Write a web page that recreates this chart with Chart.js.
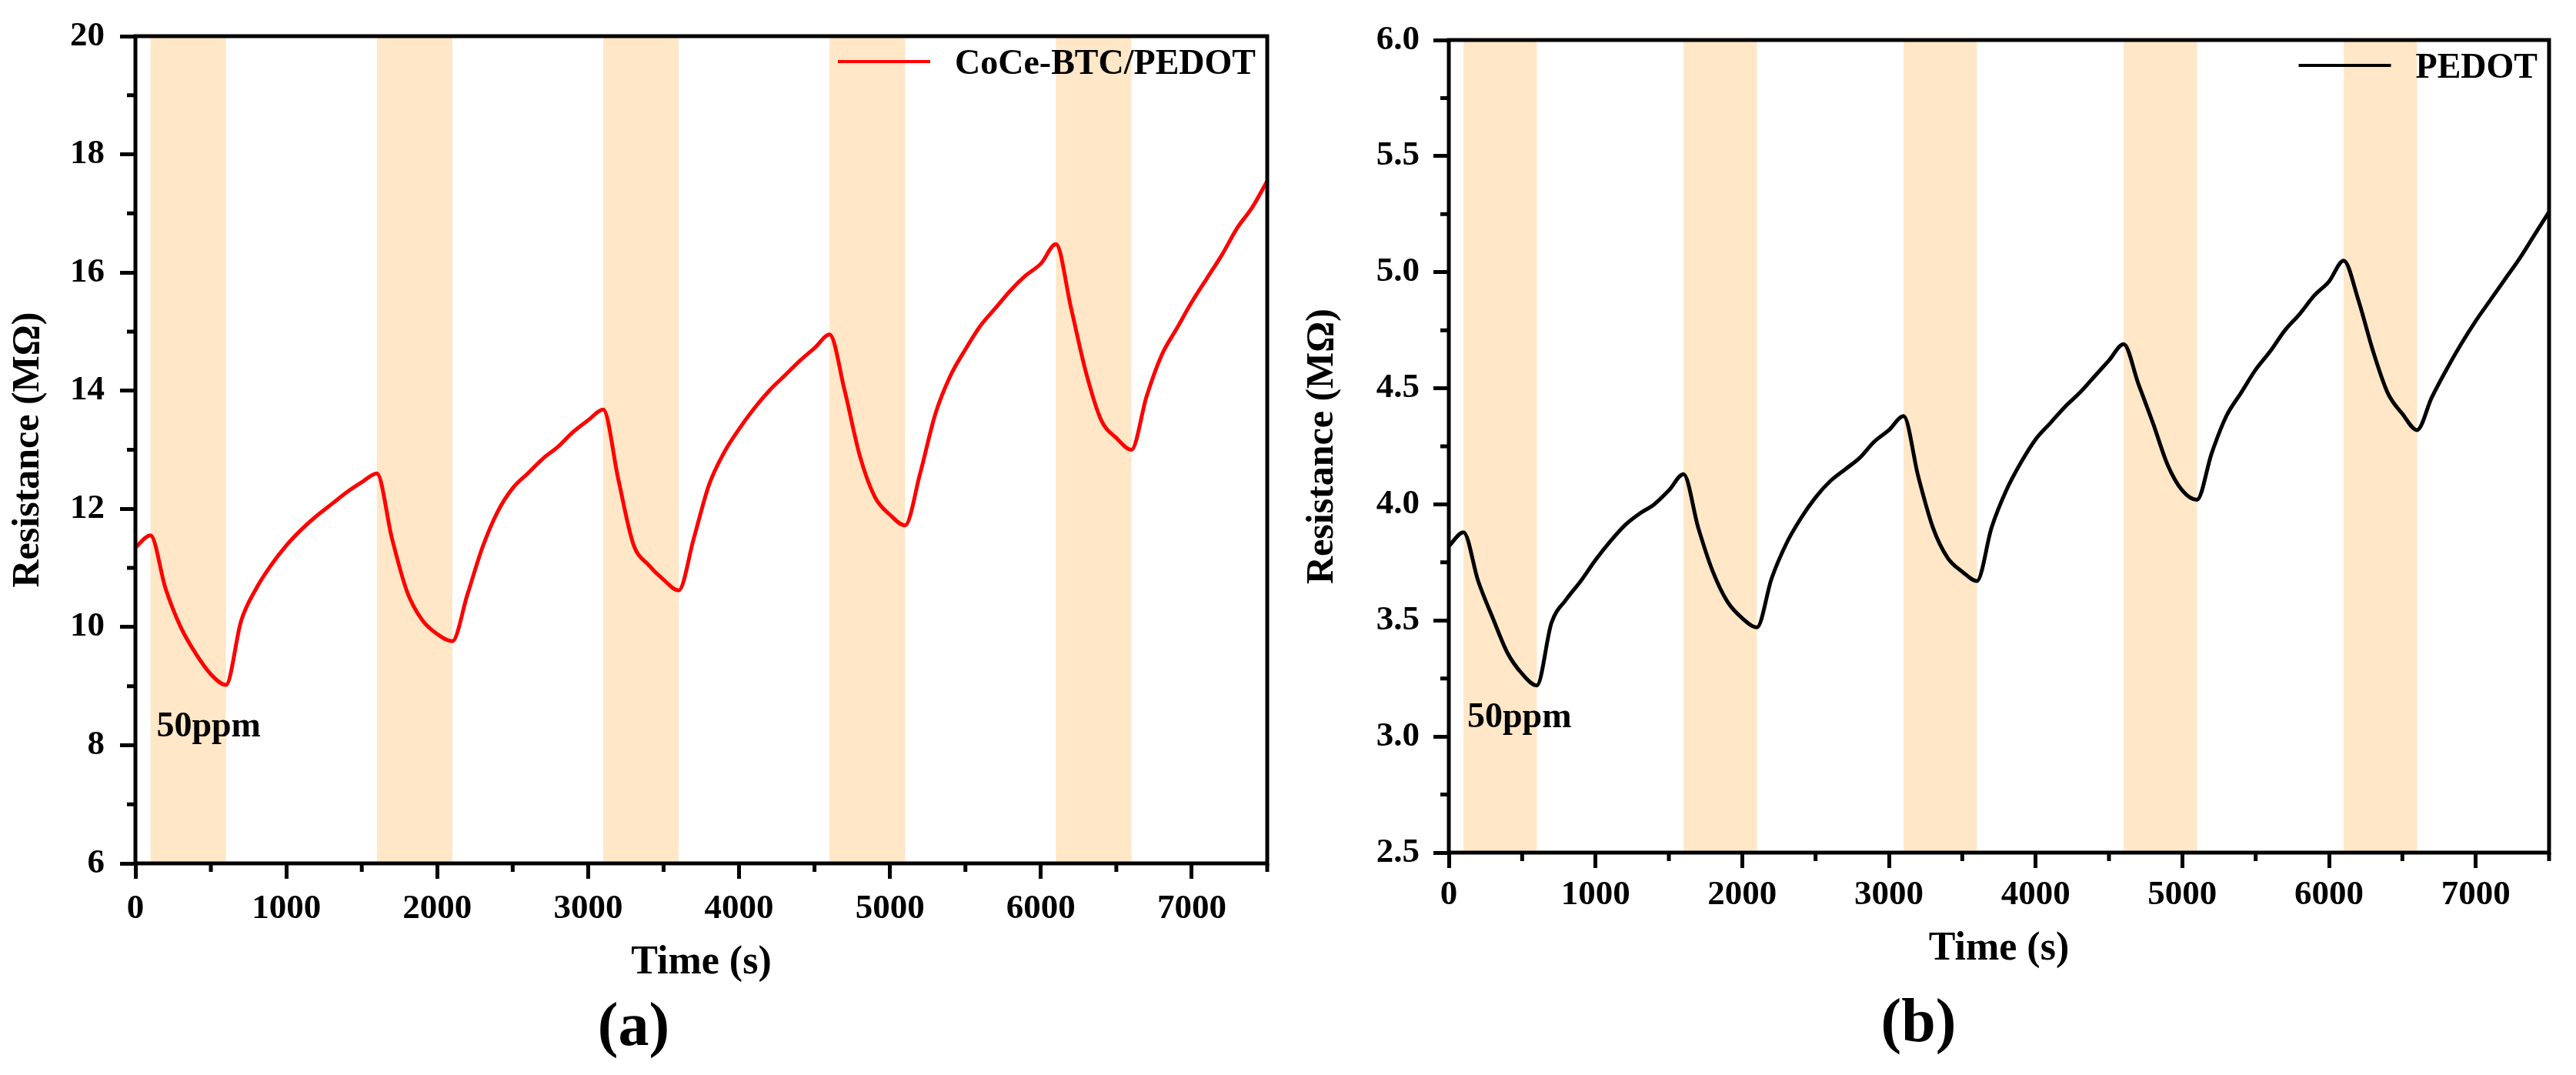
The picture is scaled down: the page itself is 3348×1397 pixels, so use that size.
<!DOCTYPE html>
<html>
<head>
<meta charset="utf-8">
<script src="https://cdn.jsdelivr.net/npm/chart.js@4.4.1/dist/chart.umd.min.js"></script>
<style>
  html, body { margin: 0; padding: 0; background: #fff; }
  #wrap { position: relative; width: 3348px; height: 1397px; }
  canvas { position: absolute; top: 0; }
</style>
</head>
<body>
<div id="wrap">
  <canvas id="chartA" width="1674" height="1397" style="left:0"></canvas>
  <canvas id="chartB" width="1674" height="1397" style="left:1674px"></canvas>
</div>
<script>
// time axis (s), one reading every 100 s
const timeS = [0,100,200,300,400,500,600,700,800,900,1000,1100,1200,1300,1400,1500,1600,1700,1800,1900,
  2000,2100,2200,2300,2400,2500,2600,2700,2800,2900,3000,3100,3200,3300,3400,3500,3600,3700,3800,3900,
  4000,4100,4200,4300,4400,4500,4600,4700,4800,4900,5000,5100,5200,5300,5400,5500,5600,5700,5800,5900,
  6000,6100,6200,6300,6400,6500,6600,6700,6800,6900,7000,7100,7200,7300,7400,7500];

// (a) CoCe-BTC/PEDOT resistance, MOhm
const resistA = [11.35,11.55,10.65,10.0,9.55,9.2,9.02,10.1,10.65,11.05,11.38,11.65,11.88,12.08,12.28,12.45,
  12.6,11.5,10.6,10.12,9.88,9.76,10.55,11.35,11.95,12.35,12.6,12.85,13.05,13.3,13.5,13.68,12.5,11.4,11.05,
  10.8,10.62,11.5,12.4,12.95,13.35,13.7,14.0,14.25,14.5,14.72,14.95,14.0,12.9,12.2,11.9,11.72,12.6,13.6,
  14.25,14.7,15.1,15.4,15.7,15.95,16.15,16.48,15.4,14.3,13.5,13.2,13.0,13.9,14.6,15.05,15.5,15.9,16.3,
  16.75,17.1,17.55];

// (b) PEDOT resistance, MOhm
const resistB = [3.82,3.88,3.67,3.51,3.36,3.27,3.22,3.49,3.59,3.67,3.76,3.84,3.91,3.96,4.0,4.06,4.13,3.9,
  3.71,3.58,3.51,3.47,3.68,3.83,3.94,4.03,4.1,4.15,4.2,4.27,4.32,4.38,4.12,3.9,3.77,3.71,3.67,3.9,4.06,
  4.18,4.28,4.35,4.42,4.48,4.55,4.62,4.69,4.52,4.35,4.17,4.06,4.02,4.22,4.38,4.48,4.58,4.66,4.75,4.82,
  4.9,4.96,5.05,4.88,4.66,4.48,4.39,4.32,4.46,4.58,4.69,4.79,4.88,4.97,5.06,5.16,5.26];

// gas exposure windows (s)
const bandStart = [100, 1600, 3100, 4600, 6100];
const bandEnd = [600, 2100, 3600, 5100, 6600];

// ticks
const xTicks = [0,1000,2000,3000,4000,5000,6000,7000];
const xMinor = [500,1500,2500,3500,4500,5500,6500,7500];
const yTicksA = [6,8,10,12,14,16,18,20];
const yMinorA = [7,9,11,13,15,17,19];
const yTicksB = [2.5,3.0,3.5,4.0,4.5,5.0,5.5,6.0];
const yMinorB = [2.75,3.25,3.75,4.25,4.75,5.25,5.75];

const FONT = "'Liberation Serif', 'Times New Roman', serif";
Chart.defaults.font.family = FONT;
Chart.defaults.font.weight = 'bold';
Chart.defaults.color = '#000';

// shaded bands, frame, minor ticks, note and legend
const panelPlugin = {
  id: 'panel',
  beforeDatasetsDraw(chart, args, opts) {
    const ctx = chart.ctx, a = chart.chartArea, x = chart.scales.x, y = chart.scales.y;
    ctx.save();
    ctx.fillStyle = '#FFE7C7';
    bandStart.forEach((s, i) => {
      const l = x.getPixelForValue(s), r = x.getPixelForValue(bandEnd[i]);
      ctx.fillRect(l, a.top, r - l, a.bottom - a.top);
    });
    ctx.fillStyle = '#000';
    ctx.font = 'bold 46px ' + FONT;
    ctx.textBaseline = 'middle';
    ctx.textAlign = 'left';
    ctx.fillText(opts.note, x.getPixelForValue(opts.noteX), y.getPixelForValue(opts.noteY));
    ctx.restore();
  },
  afterDraw(chart, args, opts) {
    const ctx = chart.ctx, a = chart.chartArea, x = chart.scales.x, y = chart.scales.y;
    ctx.save();
    ctx.strokeStyle = '#000';
    ctx.lineWidth = 5;
    ctx.strokeRect(a.left, a.top, a.right - a.left, a.bottom - a.top);
    ctx.beginPath();
    xMinor.forEach(v => {
      const px = x.getPixelForValue(v);
      ctx.moveTo(px, a.bottom);
      ctx.lineTo(px, a.bottom + 11);
    });
    opts.yMinor.forEach(v => {
      const py = y.getPixelForValue(v);
      ctx.moveTo(a.left, py);
      ctx.lineTo(a.left - 11, py);
    });
    ctx.stroke();

    // legend
    const ds = chart.data.datasets[0];
    ctx.font = 'bold 46px ' + FONT;
    ctx.textBaseline = 'middle';
    ctx.textAlign = 'left';
    const tw = ctx.measureText(ds.label).width;
    const ly = a.top + 37;
    const tx = a.right - 15 - tw;
    ctx.fillStyle = '#000';
    ctx.fillText(ds.label, tx, ly);
    ctx.strokeStyle = ds.borderColor;
    ctx.lineWidth = 4;
    ctx.beginPath();
    ctx.moveTo(tx - 152, ly - 4);
    ctx.lineTo(tx - 32, ly - 4);
    ctx.stroke();
    ctx.restore();
  }
};

function makeChart(id, cfg) {
  const points = timeS.map((t, i) => ({x: t, y: cfg.values[i]}));
  return new Chart(document.getElementById(id), {
    type: 'line',
    data: {
      datasets: [{
        label: cfg.label,
        data: points,
        borderColor: cfg.color,
        backgroundColor: cfg.color,
        borderWidth: 5,
        pointRadius: 0,
        cubicInterpolationMode: 'monotone'
      }]
    },
    plugins: [panelPlugin],
    options: {
      responsive: false,
      animation: false,
      devicePixelRatio: 1,
      layout: { padding: cfg.pad },
      plugins: {
        legend: { display: false },
        tooltip: { enabled: false },
        title: {
          display: true,
          text: cfg.panel,
          position: 'bottom',
          font: { size: 80, weight: 'bold' },
          color: '#000',
          padding: { top: 0, bottom: cfg.panelPad }
        },
        panel: { note: '50ppm', noteX: cfg.noteX, noteY: cfg.noteY, yMinor: cfg.yMinor }
      },
      scales: {
        x: {
          type: 'linear',
          min: 0,
          max: 7500,
          afterBuildTicks: s => { s.ticks = xTicks.map(v => ({value: v})); },
          afterFit: s => { s.height = cfg.xHeight; },
          border: { display: false },
          grid: { drawOnChartArea: false, drawTicks: true, tickLength: 20, tickWidth: 5, tickColor: '#000' },
          ticks: {
            font: { size: 45, weight: 'bold' },
            color: '#000',
            padding: cfg.xTickPad,
            maxRotation: 0,
            callback: v => String(v)
          },
          title: {
            display: true,
            text: 'Time (s)',
            font: { size: 52, weight: 'bold' },
            color: '#000',
            padding: { top: 0, bottom: cfg.xTitlePad }
          }
        },
        y: {
          min: cfg.yMin,
          max: cfg.yMax,
          afterBuildTicks: s => { s.ticks = cfg.yTicks.map(v => ({value: v})); },
          afterFit: s => { s.width = cfg.yWidth; },
          border: { display: false },
          grid: { drawOnChartArea: false, drawTicks: true, tickLength: 20, tickWidth: 5, tickColor: '#000' },
          ticks: {
            font: { size: 45, weight: 'bold' },
            color: '#000',
            padding: cfg.yTickPad,
            callback: v => Number(v).toFixed(cfg.yDigits)
          },
          title: {
            display: true,
            text: 'Resistance (MΩ)',
            font: { size: 50, weight: 'bold' },
            color: '#000',
            padding: { top: cfg.yTitlePad, bottom: 0 }
          }
        }
      }
    }
  });
}

makeChart('chartA', {
  label: 'CoCe-BTC/PEDOT', color: '#FF0000', values: resistA, panel: '(a)',
  yMin: 6, yMax: 20, yTicks: yTicksA, yMinor: yMinorA, yDigits: 0,
  noteX: 140, noteY: 8.3,
  pad: { left: 0, top: 37, right: 27, bottom: 0 },
  panelPad: 12, xHeight: 167, yWidth: 176,
  xTickPad: 12, xTitlePad: 6, yTickPad: 20, yTitlePad: 7
});

makeChart('chartB', {
  label: 'PEDOT', color: '#000000', values: resistB, panel: '(b)',
  yMin: 2.5, yMax: 6, yTicks: yTicksB, yMinor: yMinorB, yDigits: 1,
  noteX: 126, noteY: 3.08,
  pad: { left: 0, top: 52, right: 35, bottom: 0 },
  panelPad: 17, xHeight: 176, yWidth: 209,
  xTickPad: 8, xTitlePad: 19, yTickPad: 18, yTitlePad: 15
});
</script>
</body>
</html>
